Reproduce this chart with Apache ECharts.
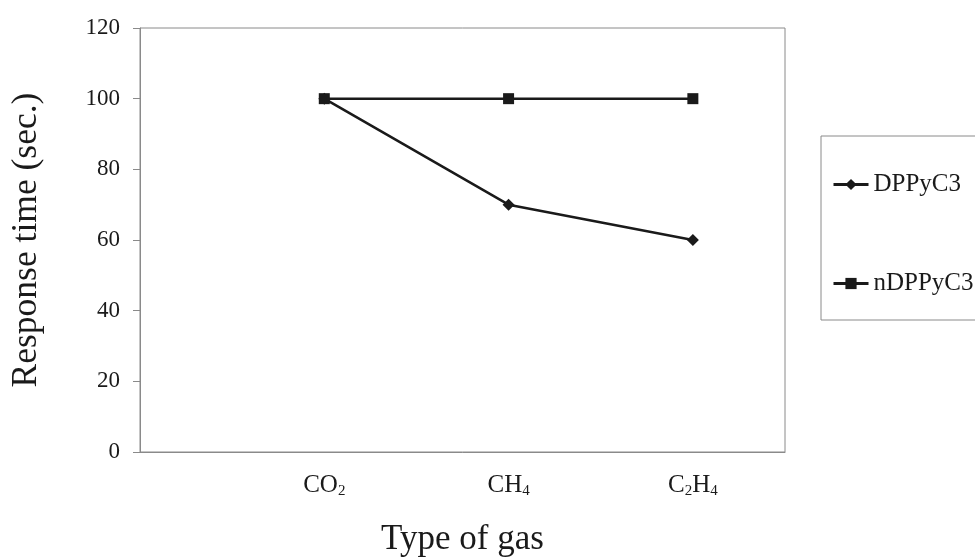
<!DOCTYPE html>
<html>
<head>
<meta charset="utf-8">
<script src="https://cdn.jsdelivr.net/npm/echarts@6/dist/echarts.min.js"></script>
<style>html,body{margin:0;padding:0;background:#fff}#c{width:975px;height:558px}</style>
</head>
<body>
<div id="c"></div>
<script>
const categories = ['CO{sub|2}', 'CH{sub|4}', 'C{sub|2}H{sub|4}'];
const seriesNames = ['DPPyC3', 'nDPPyC3'];
const dppyc3 = [100, 70, 60];
const ndppyc3 = [100, 100, 100];
const yTicks = [0, 20, 40, 60, 80, 100, 120];

const FONT = '"Liberation Serif", "DejaVu Serif", serif';
const toPts = vals => vals.map((v, i) => [i + 1, v]);

const chart = echarts.init(document.getElementById('c'));
chart.setOption({
  animation: false,
  backgroundColor: '#fff',
  grid: { left: 140, right: 190, top: 28, bottom: 106, outerBoundsMode: 'none', containLabel: false, show: true, borderColor: '#8a8a8a', borderWidth: 1, backgroundColor: 'transparent' },
  xAxis: {
    type: 'value', min: 0, max: 3.5, interval: 1,
    splitLine: { show: false },
    axisTick: { show: false },
    axisLine: { show: true, lineStyle: { color: '#8a8a8a', width: 1 } },
    axisLabel: {
      margin: 20,
      showMaxLabel: false,
      formatter: v => (Number.isInteger(v) && v >= 1 && v <= categories.length) ? categories[v - 1] : '',
      fontFamily: FONT, fontSize: 25, color: '#1a1a1a',
      rich: { sub: { fontFamily: FONT, fontSize: 15, color: '#1a1a1a', padding: [12, 0, 0, 0] } }
    },
    name: 'Type of gas', nameLocation: 'middle', nameGap: 70,
    nameTextStyle: { fontFamily: FONT, fontSize: 35, color: '#1a1a1a' }
  },
  yAxis: {
    type: 'value', min: yTicks[0], max: yTicks[yTicks.length - 1], interval: 20,
    splitLine: { show: false },
    axisLine: { show: true, lineStyle: { color: '#8a8a8a', width: 1 } },
    axisTick: { show: true, length: 7, inside: false, lineStyle: { color: '#8a8a8a' } },
    axisLabel: { margin: 20, fontFamily: FONT, fontSize: 23, color: '#1a1a1a' },
    name: 'Response time (sec.)', nameLocation: 'middle', nameGap: 95,
    nameTextStyle: { fontFamily: FONT, fontSize: 35.5, color: '#1a1a1a' }
  },
  legend: {
    orient: 'vertical', left: 821, top: 136,
    data: seriesNames,
    itemWidth: 35, itemHeight: 14, itemGap: 74,
    padding: [36, 60, 24, 11],
    borderColor: '#8a8a8a', borderWidth: 1,
    lineStyle: { width: 3 },
    textStyle: { fontFamily: FONT, fontSize: 25, color: '#1a1a1a', padding: [0, 0, 0, 0] }
  },
  series: [
    {
      name: seriesNames[0], type: 'line', data: toPts(dppyc3),
      symbol: 'diamond', symbolSize: 12,
      lineStyle: { color: '#1a1a1a', width: 2.5 },
      itemStyle: { color: '#1a1a1a' }
    },
    {
      name: seriesNames[1], type: 'line', data: toPts(ndppyc3),
      symbol: 'rect', symbolSize: 11,
      lineStyle: { color: '#1a1a1a', width: 2.5 },
      itemStyle: { color: '#1a1a1a' }
    }
  ]
});
</script>
</body>
</html>
